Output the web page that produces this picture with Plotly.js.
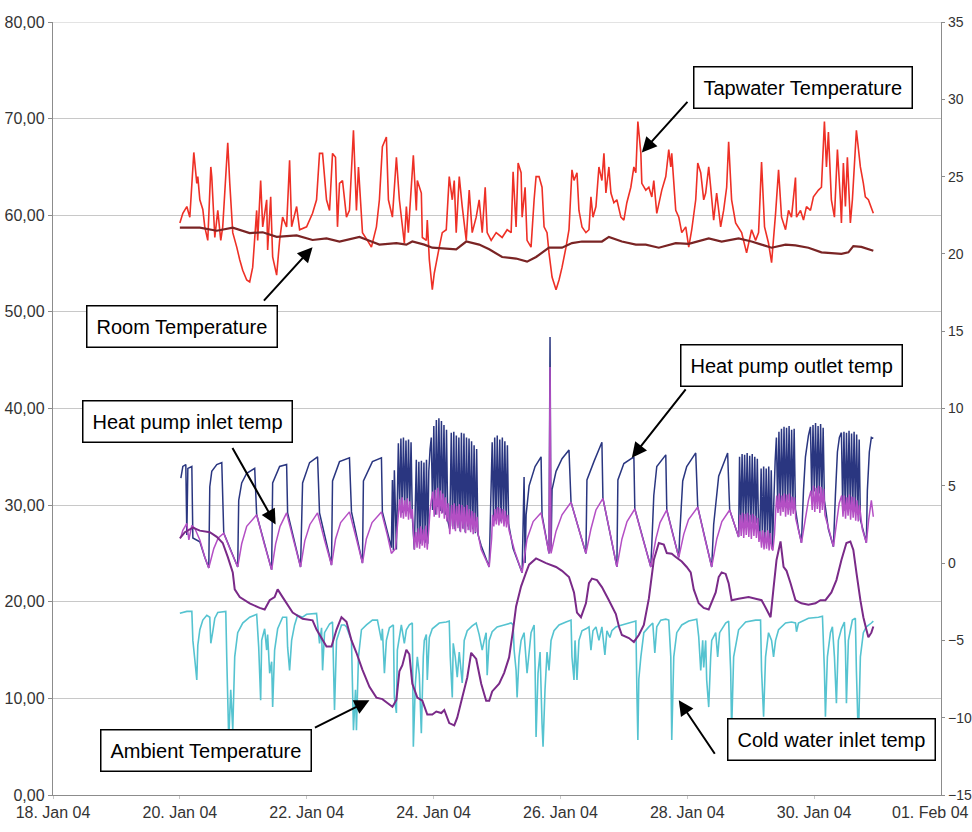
<!DOCTYPE html>
<html>
<head>
<meta charset="utf-8">
<script src="https://cdn.plot.ly/plotly-3.0.1.min.js"></script>
<style>html,body{margin:0;padding:0;background:#fff}#chart{width:972px;height:832px}</style>
</head>
<body>
<div id="chart"></div>
<script>
// time values = days after 20 Jan 2004 00:00
const tapT=[0.000,0.047,0.110,0.157,0.220,0.267,0.283,0.315,0.362,0.393,0.440,0.488,0.503,0.551,0.598,0.645,0.676,0.755,0.787,0.834,0.897,0.944,0.991,1.054,1.101,1.148,1.211,1.227,1.274,1.306,1.369,1.384,1.432,1.463,1.526,1.573,1.620,1.683,1.730,1.762,1.841,1.888,1.998,2.092,2.155,2.202,2.250,2.312,2.360,2.407,2.454,2.485,2.517,2.564,2.627,2.674,2.737,2.784,2.816,2.879,2.957,3.020,3.099,3.146,3.193,3.256,3.288,3.351,3.414,3.461,3.539,3.571,3.602,3.681,3.728,3.744,3.807,3.823,3.886,3.901,3.933,3.980,4.011,4.043,4.090,4.137,4.200,4.247,4.295,4.326,4.357,4.405,4.452,4.515,4.562,4.609,4.672,4.719,4.767,4.814,4.845,4.908,4.987,5.081,5.160,5.223,5.254,5.301,5.333,5.380,5.396,5.443,5.474,5.537,5.585,5.616,5.663,5.710,5.742,5.789,5.820,5.868,5.931,5.978,6.025,6.088,6.135,6.182,6.214,6.261,6.292,6.340,6.402,6.450,6.481,6.513,6.560,6.607,6.654,6.686,6.717,6.764,6.796,6.843,6.890,6.953,7.000,7.047,7.110,7.158,7.189,7.221,7.268,7.283,7.346,7.394,7.441,7.472,7.519,7.598,7.661,7.708,7.740,7.755,7.818,7.866,7.913,7.976,8.023,8.070,8.133,8.165,8.212,8.259,8.290,8.338,8.369,8.416,8.463,8.526,8.573,8.621,8.652,8.699,8.762,8.857,8.935,9.014,9.077,9.124,9.171,9.218,9.281,9.329,9.392,9.439,9.486,9.549,9.596,9.643,9.706,9.722,9.785,9.832,9.879,9.942,9.989,10.068,10.115,10.162,10.194,10.225,10.272,10.320,10.367,10.414,10.430,10.461,10.493,10.524,10.571,10.603,10.666,10.729,10.776,10.807,10.855,10.933];
const tapV=[59.2,60.2,60.9,59.8,66.5,63.3,64.0,61.6,60.6,58.8,57.4,65.0,64.0,57.7,60.5,57.4,58.8,67.5,63.3,58.2,56.7,55.4,54.3,53.3,53.1,54.6,60.5,57.4,63.6,58.8,61.6,56.4,61.9,55.7,53.8,57.4,59.8,58.8,65.7,58.8,60.9,58.5,58.8,60.2,61.6,66.4,66.4,61.6,60.5,66.4,66.0,58.8,63.3,63.6,59.8,60.5,68.8,60.5,65.0,58.2,57.4,56.7,58.8,61.6,67.1,68.1,61.6,59.8,66.0,61.6,57.1,60.9,58.2,66.2,60.5,63.6,62.3,57.7,57.4,59.5,55.4,52.3,54.0,55.1,56.7,58.2,58.5,64.0,61.6,63.6,58.2,64.0,60.9,57.4,62.6,58.2,59.8,61.6,58.2,62.9,58.2,57.4,58.2,57.7,58.5,58.2,64.5,58.8,65.4,64.4,59.8,62.9,57.4,56.7,61.6,64.0,64.0,62.9,58.8,58.2,56.1,53.6,52.3,53.3,54.6,56.7,58.5,64.7,63.6,64.4,60.5,58.8,58.2,58.5,61.9,59.8,60.9,65.0,63.6,66.4,62.3,65.0,62.3,61.3,61.6,59.8,59.5,61.3,62.9,65.0,64.4,69.7,66.4,63.3,62.6,62.9,61.9,63.6,60.2,62.6,64.0,66.8,65.0,66.4,60.5,59.8,58.2,58.8,56.7,58.5,61.6,65.4,64.4,61.6,62.3,65.0,62.9,59.5,62.3,58.8,60.5,62.9,67.6,61.6,59.2,58.2,56.1,58.5,57.4,58.2,65.5,58.8,57.1,55.1,60.2,64.7,59.8,58.5,60.5,59.8,63.9,59.8,60.5,59.5,60.9,60.5,61.9,62.6,62.9,69.7,65.0,68.6,61.6,59.8,66.8,61.6,59.2,65.4,60.9,66.0,59.2,61.6,68.8,65.0,63.3,61.9,61.6,60.2];

const roomT=[0.000,0.315,0.582,0.834,1.101,1.306,1.526,1.841,2.092,2.312,2.517,2.832,2.989,3.146,3.414,3.571,3.665,3.854,3.980,4.357,4.515,4.719,4.877,5.081,5.301,5.474,5.616,5.820,6.025,6.182,6.340,6.654,6.764,6.969,7.189,7.346,7.551,7.818,8.023,8.338,8.542,8.809,9.014,9.171,9.329,9.549,9.706,9.910,10.115,10.430,10.540,10.618,10.744,10.933];
const roomV=[21.7,21.7,21.5,21.7,21.35,21.4,21.1,21.2,20.9,21.0,20.8,21.1,20.85,20.6,20.7,20.6,20.8,20.6,20.4,20.3,20.8,20.6,20.3,19.8,19.7,19.5,19.8,20.4,20.4,20.7,20.8,20.8,21.1,20.8,20.6,20.6,20.4,20.7,20.65,21.0,20.8,21.0,20.8,20.6,20.4,20.6,20.55,20.4,20.1,20.0,20.1,20.5,20.45,20.2];

const ambT=[0.000,0.079,0.205,0.315,0.472,0.582,0.676,0.755,0.834,0.865,0.944,1.101,1.258,1.337,1.416,1.494,1.542,1.620,1.778,1.935,2.092,2.155,2.312,2.391,2.470,2.548,2.627,2.706,2.784,2.879,2.989,3.099,3.193,3.272,3.351,3.414,3.461,3.508,3.571,3.618,3.665,3.744,3.823,3.901,3.980,4.043,4.122,4.169,4.247,4.326,4.373,4.452,4.531,4.593,4.672,4.751,4.829,4.877,4.924,5.034,5.113,5.191,5.254,5.301,5.380,5.459,5.506,5.616,5.773,5.931,6.025,6.135,6.214,6.261,6.324,6.402,6.450,6.497,6.576,6.654,6.764,6.874,6.922,6.969,7.079,7.158,7.236,7.315,7.394,7.472,7.551,7.630,7.677,7.755,7.818,7.913,7.991,8.054,8.102,8.180,8.259,8.338,8.448,8.495,8.542,8.605,8.652,8.699,8.809,8.967,9.077,9.171,9.250,9.313,9.360,9.407,9.470,9.518,9.565,9.628,9.706,9.800,9.910,10.021,10.099,10.178,10.272,10.351,10.430,10.509,10.571,10.618,10.666,10.729,10.776,10.823,10.855,10.902,10.933];
const ambV=[1.6,2.0,2.3,2.1,2.0,1.7,1.3,0.4,-0.6,-1.7,-2.2,-2.6,-2.9,-3.0,-2.4,-2.2,-1.7,-2.2,-3.2,-3.6,-3.7,-4.3,-5.4,-5.4,-4.3,-3.5,-3.8,-5.0,-5.8,-6.9,-8.0,-8.7,-8.8,-9.05,-9.3,-8.85,-7.0,-6.6,-5.6,-5.9,-7.8,-8.7,-8.9,-9.8,-9.8,-9.6,-9.7,-9.5,-10.35,-10.5,-10.0,-8.7,-7.4,-5.8,-6.2,-7.8,-8.9,-8.9,-8.3,-7.8,-7.1,-6.1,-4.3,-2.8,-1.5,-0.6,-0.1,0.3,0.0,-0.25,-0.5,-0.9,-1.9,-3.2,-3.5,-2.6,-1.3,-1.0,-1.1,-1.55,-2.4,-3.3,-4.1,-4.65,-4.85,-5.1,-4.65,-4.0,-2.3,0.2,1.3,1.2,0.65,0.6,0.4,0.1,-0.25,-0.6,-1.7,-2.6,-2.9,-3.0,-1.9,-0.9,-0.6,-0.7,-1.3,-2.4,-2.3,-2.2,-2.3,-2.4,-3.0,-3.5,-1.6,0.2,1.4,-0.25,-0.5,-1.3,-2.4,-2.6,-2.7,-2.6,-2.4,-2.4,-1.9,-1.1,0.2,1.3,1.4,0.85,-0.6,-2.4,-3.5,-4.3,-4.8,-4.5,-4.1];

const outT=[0.016,0.047,0.094,0.110,0.126,0.189,0.205,0.315,0.393,0.456,0.472,0.503,0.582,0.661,0.692,0.912,0.928,0.975,1.054,1.180,1.211,1.447,1.463,1.573,1.683,1.699,1.903,1.935,2.045,2.171,2.202,2.391,2.407,2.517,2.674,2.706,2.879,2.894,3.036,3.178,3.193,3.335,3.351,3.366,3.382,3.414,3.445,
3.465,3.485,3.505,3.525,3.545,3.565,3.585,3.605,3.625,3.645,3.665,3.697,
3.728,3.748,3.768,3.788,3.808,3.828,3.848,3.868,3.888,3.908,3.925,3.945,3.964,
3.984,4.004,4.024,4.044,4.064,4.084,4.104,4.124,4.144,4.164,4.184,4.204,4.224,4.255,
4.279,4.299,4.319,4.339,4.359,4.379,4.399,4.419,4.439,4.459,4.479,4.499,4.519,4.539,4.559,4.579,4.599,4.619,4.639,4.659,4.679,4.699,4.751,4.877,
4.924,4.944,4.964,4.984,5.004,5.024,5.044,5.064,5.084,5.104,5.124,5.144,5.164,5.184,5.254,5.396,
5.427,5.443,5.459,5.506,5.600,5.695,5.710,5.820,5.836,5.852,5.868,5.931,6.025,6.135,6.167,6.402,6.418,6.528,6.654,6.670,6.890,6.906,7.000,7.158,7.173,7.425,7.441,7.472,7.519,7.661,7.677,7.866,7.881,7.928,7.991,8.133,8.165,8.385,8.416,8.495,8.636,8.668,8.809,
8.824,8.844,8.864,8.884,8.904,8.924,8.944,8.964,8.984,9.004,9.024,9.044,9.064,9.084,9.104,9.124,
9.144,9.164,9.184,9.204,9.224,9.244,9.264,9.284,9.304,9.324,9.344,9.365,9.385,9.405,
9.425,9.445,9.465,9.485,9.505,9.525,9.545,9.565,9.585,9.605,9.625,9.645,9.665,9.685,9.705,9.753,9.800,9.832,9.863,9.910,9.942,
9.962,9.982,10.002,10.022,10.042,10.062,10.082,10.102,10.122,10.142,10.162,10.225,10.304,10.335,10.367,10.398,10.430,
10.450,10.470,10.490,10.510,10.530,10.550,10.570,10.590,10.610,10.630,10.650,10.670,10.690,10.710,10.729,10.823,10.839,10.870,10.902,10.933];
const outV=[32.8,34.0,34.2,26.9,33.8,34.0,26.6,26.2,24.6,23.5,31.9,33.5,34.2,34.4,27.1,23.6,30.5,32.3,33.3,33.8,29.0,23.3,32.3,34.0,34.2,29.2,23.6,32.3,34.4,35.0,29.2,23.8,32.5,34.5,34.9,29.3,24.0,32.5,34.5,34.9,29.3,25.6,32.6,25.3,33.6,25.4,36.4,
29.6,36.9,29.2,37.0,29.8,36.7,29.4,36.8,29.6,36.5,28.8,25.4,
34.7,26.2,34.5,26.0,34.6,26.4,34.4,26.1,34.7,26.0,33.5,35.8,37.0,
29.5,38.2,29.0,38.8,29.8,39.0,29.4,38.7,29.2,38.3,29.0,37.8,28.4,27.5,
37.5,27.8,37.6,27.5,37.2,27.9,37.0,27.3,37.5,27.6,37.4,27.2,37.0,27.8,36.9,27.4,36.6,27.5,36.2,27.1,35.8,27.0,25.8,23.6,
36.5,28.6,37.0,28.4,37.2,28.8,36.8,28.3,37.0,28.6,36.6,28.4,36.2,28.0,25.5,23.0,
32.9,24.0,29.0,32.0,34.0,35.0,29.0,25.0,47.4,25.2,31.6,33.5,34.8,35.7,30.3,25.0,32.6,34.5,36.5,30.7,23.6,32.6,34.3,35.0,29.6,23.6,26.0,31.0,34.0,35.2,29.5,24.6,27.0,32.5,34.0,35.4,29.8,23.6,28.0,33.0,35.4,29.5,26.7,
35.0,28.2,35.3,27.9,35.2,28.3,35.4,28.0,35.1,28.2,35.3,27.8,35.0,28.1,34.8,27.5,
26.8,33.8,26.5,34.0,26.2,33.8,26.4,34.0,26.0,33.6,25.6,30.5,34.5,37.0,
30.0,37.6,29.6,37.9,30.2,38.1,29.8,38.0,30.4,38.2,29.5,37.8,30.0,37.9,29.6,27.5,26.1,31.5,35.0,37.2,38.1,
31.0,38.3,31.4,38.5,30.8,38.2,31.2,38.4,30.9,38.0,30.5,27.5,25.7,31.0,35.5,37.0,37.5,
29.8,37.6,29.4,37.5,30.0,37.7,29.6,37.4,29.9,37.6,29.3,37.3,29.0,36.8,28.5,26.1,31.5,35.5,37.0,36.9];

const inT=[0.016,0.047,0.110,0.142,0.189,0.236,0.315,0.393,0.456,0.535,0.605,0.692,0.800,0.912,0.975,1.054,1.211,1.330,1.447,1.510,1.580,1.683,1.795,1.903,1.970,2.050,2.171,2.280,2.391,2.455,2.535,2.674,2.780,2.879,2.940,3.030,3.178,3.275,3.335,3.400,
3.445,3.465,3.485,3.505,3.525,3.545,3.565,3.585,3.605,3.625,3.645,3.665,3.697,
3.720,3.740,3.760,3.780,3.800,3.820,3.840,3.860,3.880,3.900,3.925,3.945,3.964,
3.990,4.010,4.030,4.050,4.070,4.090,4.110,4.130,4.150,4.170,4.190,4.210,4.230,4.255,
4.285,4.305,4.325,4.345,4.365,4.385,4.405,4.425,4.445,4.465,4.485,4.505,4.525,4.545,4.565,4.585,4.605,4.625,4.645,4.665,4.685,4.705,4.751,4.877,
4.915,4.930,4.950,4.970,4.990,5.010,5.030,5.050,5.070,5.090,5.110,5.130,5.150,5.170,5.190,5.280,5.396,
5.474,5.570,5.695,5.820,5.836,5.852,5.931,6.025,6.167,6.290,6.402,6.480,6.560,6.670,6.780,6.890,6.970,7.050,7.173,7.300,7.425,7.505,7.570,7.677,7.770,7.866,7.945,8.020,8.165,8.275,8.385,8.465,8.545,8.668,8.809,
8.830,8.850,8.870,8.890,8.910,8.930,8.950,8.970,8.990,9.010,9.030,9.050,9.070,9.090,9.110,9.130,
9.150,9.170,9.190,9.210,9.230,9.250,9.270,9.290,9.310,9.330,9.350,9.375,9.395,9.410,
9.430,9.450,9.470,9.490,9.510,9.530,9.550,9.570,9.590,9.610,9.630,9.650,9.670,9.690,9.710,9.760,9.800,9.860,9.910,9.950,
9.970,9.990,10.010,10.030,10.050,10.070,10.090,10.110,10.130,10.150,10.170,10.240,10.304,10.350,10.395,10.435,
10.455,10.475,10.495,10.515,10.535,10.555,10.575,10.595,10.615,10.635,10.655,10.675,10.695,10.715,10.760,10.823,10.860,10.902,10.920,10.933];
const inV=[26.7,27.4,28.1,26.4,27.9,27.6,26.4,24.6,23.5,25.5,26.6,27.1,25.3,23.6,26.0,27.8,29.0,26.0,23.3,26.0,27.8,29.2,26.3,23.6,26.3,28.0,29.2,26.4,23.8,26.5,28.2,29.3,26.6,24.0,26.5,28.2,29.3,26.8,25.0,25.5,
29.0,30.6,28.7,30.8,28.6,30.5,28.8,30.7,28.5,30.4,28.6,29.6,25.4,
27.2,25.6,27.6,25.5,27.8,25.8,27.5,25.6,27.9,25.4,27.5,29.5,30.5,
31.4,28.8,31.6,29.0,31.8,28.7,31.5,29.1,31.2,28.6,30.8,28.3,30.2,27.0,
30.0,27.5,30.2,27.3,29.9,27.6,30.1,27.2,30.0,27.5,29.8,27.1,30.0,27.4,29.6,27.2,29.4,27.0,29.2,27.2,28.8,26.9,25.4,23.6,
26.5,29.0,27.8,29.6,28.0,29.8,27.9,29.7,28.1,29.6,27.8,29.4,27.7,29.0,27.4,25.2,23.0,
26.5,28.3,29.2,25.0,44.3,25.0,27.3,29.0,30.3,27.5,25.0,27.5,29.5,30.7,27.2,23.6,26.5,28.3,29.6,26.5,23.6,26.5,28.2,29.5,27.0,24.6,27.0,28.5,29.8,26.6,23.6,26.5,28.3,29.5,26.7,
29.0,26.8,29.2,26.6,29.1,26.9,29.2,26.7,29.0,26.5,29.1,26.8,28.9,26.6,28.7,26.2,
27.3,25.6,27.4,25.4,27.2,25.5,27.4,25.3,27.1,25.5,25.3,27.0,29.5,31.0,
29.2,31.2,28.9,31.0,29.3,31.2,28.8,31.1,29.0,31.2,28.9,30.9,29.1,30.8,28.6,27.2,26.1,28.5,30.5,31.5,
29.5,32.0,29.3,31.8,29.6,32.0,29.2,31.9,29.5,31.7,29.0,27.3,25.7,28.0,30.2,31.0,
28.8,31.0,28.6,30.8,28.9,31.1,28.5,30.9,28.7,30.8,28.4,30.5,28.3,30.0,27.5,26.1,28.5,30.5,29.5,28.8];

const coldT=[0.000,0.110,0.189,0.205,0.236,0.267,0.283,0.315,0.362,0.425,0.472,0.488,0.519,0.551,0.598,0.724,0.739,0.771,0.802,0.834,0.865,0.912,0.991,1.101,1.211,1.243,1.274,1.290,1.337,1.369,1.384,1.416,1.447,1.463,1.494,1.542,1.620,1.683,1.699,1.730,1.762,1.809,1.856,1.935,1.998,2.155,2.202,2.234,2.250,2.281,2.360,2.407,2.438,2.470,2.548,2.596,2.627,2.706,2.737,2.769,2.784,2.816,2.863,2.942,3.036,3.115,3.178,3.193,3.225,3.256,3.304,3.366,3.382,3.414,3.429,3.492,3.539,3.571,3.618,3.665,3.681,3.713,3.744,3.775,3.807,3.838,3.854,3.886,3.901,3.933,3.980,4.090,4.200,4.247,4.263,4.295,4.310,4.342,4.373,4.405,4.452,4.483,4.531,4.609,4.672,4.719,4.767,4.798,4.829,4.845,4.877,4.924,5.002,5.113,5.223,5.254,5.270,5.301,5.317,5.348,5.380,5.427,5.474,5.537,5.585,5.600,5.616,5.647,5.679,5.710,5.726,5.757,5.789,5.820,5.852,5.899,5.978,6.088,6.167,6.182,6.214,6.230,6.261,6.292,6.340,6.402,6.450,6.481,6.513,6.560,6.607,6.654,6.701,6.733,6.780,6.811,6.874,6.969,7.079,7.189,7.205,7.221,7.236,7.268,7.315,7.394,7.456,7.488,7.519,7.582,7.661,7.708,7.740,7.755,7.787,7.834,7.913,8.023,8.149,8.180,8.212,8.243,8.259,8.290,8.306,8.338,8.369,8.385,8.448,8.479,8.510,8.605,8.652,8.684,8.699,8.731,8.809,8.920,9.077,9.155,9.171,9.203,9.234,9.281,9.329,9.360,9.392,9.439,9.549,9.643,9.706,9.722,9.753,9.910,10.068,10.131,10.162,10.178,10.209,10.257,10.288,10.320,10.351,10.382,10.430,10.477,10.493,10.509,10.540,10.603,10.650,10.666,10.697,10.729,10.776,10.823,10.902,10.933];
const coldV=[18.8,19.0,19.0,16.0,14.0,11.9,15.5,17.1,18.1,18.6,18.4,15.7,16.9,18.3,18.9,19.0,14.3,5.7,10.9,6.7,14.3,16.8,17.8,18.4,18.7,15.3,9.8,16.0,17.2,15.0,16.6,12.6,13.8,9.1,15.0,17.2,18.4,18.4,15.3,12.9,16.0,17.6,18.6,18.4,18.7,18.8,15.7,17.3,12.9,16.8,17.7,17.9,8.8,16.0,17.6,17.6,17.4,16.0,6.7,10.9,6.7,14.3,17.1,17.6,18.1,18.1,16.0,17.2,12.6,16.0,17.3,17.6,10.1,8.5,15.0,17.6,15.7,17.1,17.6,17.8,5.0,11.5,14.3,12.5,6.4,14.3,16.0,16.6,11.9,16.3,17.2,17.8,17.9,18.0,14.3,10.1,15.7,14.3,12.2,14.8,11.6,16.0,17.0,17.5,17.8,16.6,15.0,16.0,16.8,12.4,16.0,16.9,17.4,17.6,17.8,17.6,15.0,12.9,10.1,14.3,16.0,16.8,12.6,16.8,17.6,13.4,6.0,12.6,14.8,7.4,5.0,10.9,14.8,12.9,16.0,17.0,17.6,17.9,18.1,14.3,11.9,16.0,11.9,16.0,17.0,17.2,17.4,15.0,17.0,17.4,16.0,17.4,14.5,17.0,16.3,17.0,17.4,17.6,17.8,18.0,10.9,5.7,12.0,14.3,16.8,17.4,17.8,14.7,17.4,18.1,18.2,18.1,14.3,5.7,14.3,16.8,17.6,18.0,18.2,16.4,12.9,16.0,13.2,16.0,11.9,9.1,14.3,16.0,16.8,14.3,16.8,17.8,18.0,12.9,6.7,14.3,17.1,17.9,18.1,18.1,12.9,8.1,14.3,16.8,16.0,14.3,16.0,17.1,17.8,17.9,17.8,16.9,17.8,18.3,18.4,18.5,12.9,8.1,14.3,16.8,17.4,14.3,9.5,16.0,17.2,17.9,15.3,9.5,16.0,18.1,18.3,12.9,5.7,14.3,16.8,17.4,17.8,18.0];

// x-axis tick labels
const xTickDates=['2004-01-18','2004-01-20','2004-01-22','2004-01-24','2004-01-26','2004-01-28','2004-01-30'];
const xTickLabels=['18. Jan 04','20. Jan 04','22. Jan 04','24. Jan 04','26. Jan 04','28. Jan 04','30. Jan 04'];
const lastTickLabel='01. Feb 04';

// labels and the point each arrow points at (day after 20 Jan, left-axis value)
const labelTexts=["Tapwater Temperature","Room Temperature","Heat pump outlet temp","Heat pump inlet temp","Ambient Temperature","Cold water inlet temp"];
const headDays=[7.283,2.092,7.126,1.510,2.989,7.866];
const headVals=[66.5,56.7,34.9,28.0,9.8,9.8];

const BASE=Date.UTC(2004,0,20), DAY=86400000;
const toDates=a=>a.map(d=>new Date(BASE+d*DAY).toISOString().slice(0,19).replace('T',' '));

const FONT='"Liberation Sans", Arial, sans-serif';
const NARROW='"Liberation Sans Narrow", "Arial Narrow", "Liberation Sans", Arial, sans-serif';
function tr(t,v,color,width,axis){
  return {x:toDates(t),y:v,type:'scatter',mode:'lines',yaxis:axis,
    line:{color:color,width:width,simplify:false},hoverinfo:'skip'};
}
const data=[
  tr(coldT,coldV,'#55c3d0',1.6,'y'),
  tr(outT,outV,'#2a3680',1.5,'y'),
  tr(inT,inV,'#b44fc4',1.5,'y'),
  tr(ambT,ambV,'#7a2a88',2,'y2'),
  tr(tapT,tapV,'#ee3026',1.6,'y'),
  tr(roomT,roomV,'#7a2424',2.2,'y2')
];

const ML=53, MR=31, W=972;
const plotW=W-ML-MR;

// label box positions (pixel centres -> paper) and arrow tail offsets (px)
const boxPx=[[802.5,87.5],[181.5,326.5],[791,365],[187.5,421],[206,750],[831,739]];
const tails=[[47,-52],[-50,55],[55,-70],[-44,-78],[-56,28],[37,55]];
const annotations=[];
labelTexts.forEach((txt,i)=>{
  annotations.push({xref:'x',yref:'y',x:toDates([headDays[i]])[0],y:headVals[i],
    text:'',showarrow:true,arrowhead:2,arrowsize:1.5,arrowwidth:2,arrowcolor:'#000',
    ax:tails[i][0],ay:tails[i][1]});
});
labelTexts.forEach((txt,i)=>{
  annotations.push({xref:'paper',yref:'paper',x:(boxPx[i][0]-ML)/plotW,y:(795-boxPx[i][1])/773,
    xanchor:'center',yanchor:'middle',text:txt,showarrow:false,
    font:{family:FONT,size:20,color:'#000'},bgcolor:'#fff',bordercolor:'#000',borderwidth:1.5,borderpad:9});
});
annotations.push({xref:'paper',yref:'paper',x:(971-ML)/plotW,y:0,xanchor:'right',yanchor:'top',
  yshift:-7,text:lastTickLabel,showarrow:false,font:{family:NARROW,size:16,color:'#333'}});

const layout={
  width:972,height:832,
  margin:{l:ML,r:MR,t:22,b:37},
  paper_bgcolor:'#fff',plot_bgcolor:'#fff',
  showlegend:false,separators:',.',
  xaxis:{type:'date',range:['2004-01-18','2004-02-01'],tickmode:'array',tickvals:xTickDates,ticktext:xTickLabels,
    showgrid:false,showline:true,linecolor:'#8c8c8c',linewidth:1.2,
    ticks:'outside',ticklen:3,tickcolor:'#c8c8c8',zeroline:false,tickfont:{family:NARROW,size:16,color:'#333'}},
  yaxis:{range:[0,80],dtick:10,tick0:0,tickformat:'.2f',showgrid:true,gridcolor:'#c8c8c8',gridwidth:1,
    showline:true,linecolor:'#8c8c8c',linewidth:1.2,ticks:'outside',ticklen:4,tickcolor:'#8c8c8c',
    zeroline:false,tickfont:{family:FONT,size:16,color:'#333'}},
  yaxis2:{overlaying:'y',side:'right',range:[-15,35],dtick:5,tick0:0,showgrid:false,
    showline:true,linecolor:'#8c8c8c',linewidth:1.2,ticks:'outside',ticklen:3,tickcolor:'#8c8c8c',
    zeroline:false,tickfont:{family:FONT,size:14,color:'#333'}},
  shapes:[{type:'line',xref:'paper',yref:'y',x0:0,x1:1,y0:80,y1:80,line:{color:'#c8c8c8',width:1}}],
  annotations:annotations
};
Plotly.newPlot('chart',data,layout,{staticPlot:true,displayModeBar:false});
</script>
</body>
</html>
